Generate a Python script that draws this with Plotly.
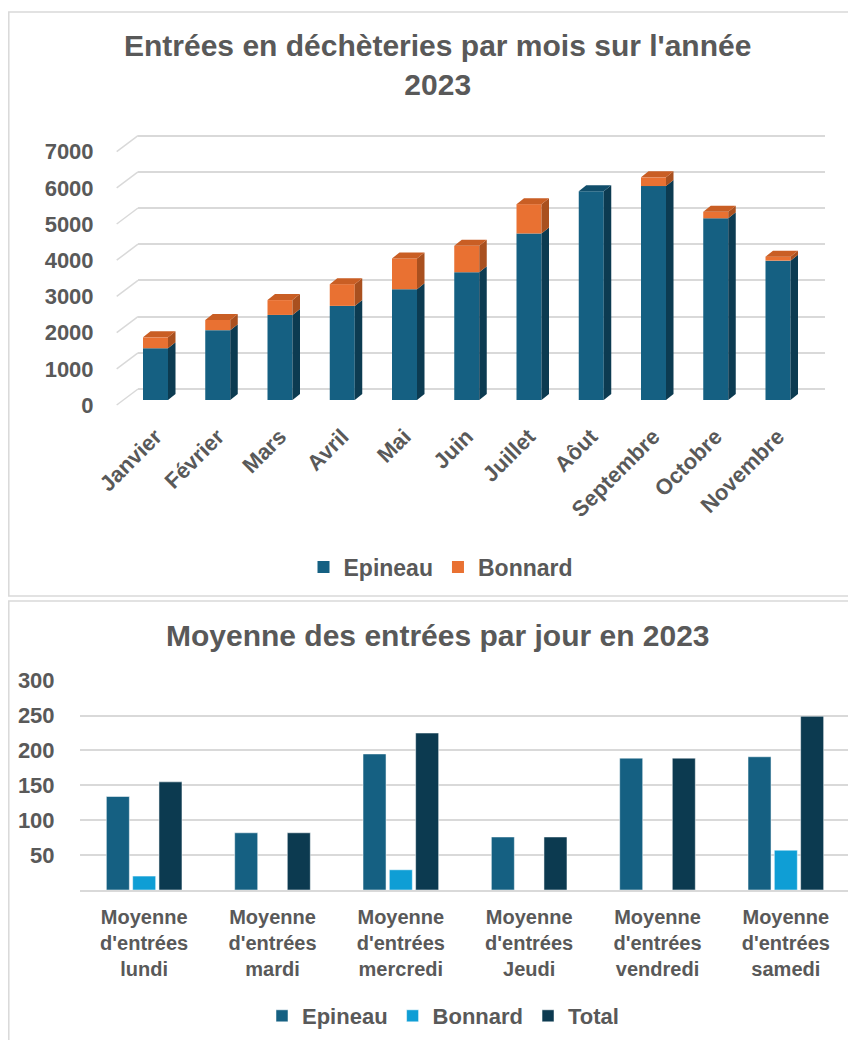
import plotly.graph_objects as go

# ---------------- data ----------------
months = ["Janvier", "Février", "Mars", "Avril", "Mai", "Juin", "Juillet",
          "Aôut", "Septembre", "Octobre", "Novembre"]
epineau_mois = [1430, 1930, 2350, 2600, 3060, 3530, 4600, 5770, 5910, 5020, 3850]
bonnard_mois = [300, 280, 410, 600, 850, 730, 810, 0, 240, 180, 110]
y_ticks_mois = [0, 1000, 2000, 3000, 4000, 5000, 6000, 7000]

days = ["Moyenne<br>d'entrées<br>lundi", "Moyenne<br>d'entrées<br>mardi",
        "Moyenne<br>d'entrées<br>mercredi", "Moyenne<br>d'entrées<br>Jeudi",
        "Moyenne<br>d'entrées<br>vendredi", "Moyenne<br>d'entrées<br>samedi"]
epineau_jour = [134, 82, 195, 76, 189, 191]
bonnard_jour = [20, None, 29, None, None, 57]
total_jour = [155, 82, 225, 76, 189, 249]
y_ticks_jour = [50, 100, 150, 200, 250, 300]

# ---------------- styles ----------------
C_EPI = "#156082"
C_EPI_SIDE = "#0C3B51"
C_EPI_TOP = "#114E6B"
C_BON = "#E97132"
C_BON_SIDE = "#A9501F"
C_BON_TOP = "#C95E24"
C_BON2 = "#0F9ED5"
C_TOT = "#0C3A50"
GRID = "#D9D9D9"
TXT = "#595959"
FONT = "Liberation Sans"

# page has an 8px body margin: figure drawn at (8, 8)
OFF = 8
W, H = 856 - OFF, 1040 - OFF
def fx(x): return (x - OFF) / W
def fy(y): return 1 - (y - OFF) / H

# top chart geometry (pixels, in window coordinates)
T_TOP, T_BOT = 120, 410
X_L, X_R = 138, 825
CAT0, CAT_STEP = 155.5, 62.25
PX_PER_1000 = 36.2
k = 1000 / PX_PER_1000
BAR_BASE, LABEL_BASE, GRID_BASE = 400, 405, 389
BW = 25 / CAT_STEP
DX = 7.5 / CAT_STEP
DY = 6 * k

def yr(base):
    return [-(T_BOT - base) * k, (base - T_TOP) * k]

xr = [(X_L - CAT0) / CAT_STEP, (X_R - CAT0) / CAT_STEP]
xs_idx = list(range(len(months)))

fig = go.Figure()

# axis carriers (empty) so the overlaid label / grid axes are drawn
fig.add_trace(go.Scatter(x=[], y=[], xaxis="x", yaxis="y3", showlegend=False, hoverinfo="skip"))
fig.add_trace(go.Scatter(x=[], y=[], xaxis="x", yaxis="y2", showlegend=False, hoverinfo="skip"))

# front faces
fig.add_trace(go.Bar(x=xs_idx, y=epineau_mois, width=BW, offsetgroup="m",
                     marker=dict(color=C_EPI, line=dict(width=0)), name="Epineau",
                     xaxis="x", yaxis="y", legend="legend"))
fig.add_trace(go.Bar(x=xs_idx, y=bonnard_mois, base=epineau_mois, width=BW, offsetgroup="m",
                     marker=dict(color=C_BON, line=dict(width=0)), name="Bonnard",
                     xaxis="x", yaxis="y", legend="legend"))

def side_faces(lows, highs):
    xs, ys = [], []
    for i, (lo, hi) in enumerate(zip(lows, highs)):
        if hi - lo <= 0:
            continue
        xa = i + BW / 2
        xb = xa + DX
        xs += [xa, xb, xb, xa, xa, None]
        ys += [lo, lo + DY, hi + DY, hi, lo, None]
    return xs, ys

def top_faces(tops, mask):
    xs, ys = [], []
    for i, (t, m) in enumerate(zip(tops, mask)):
        if not m:
            continue
        xa = i - BW / 2
        xb = i + BW / 2
        xs += [xa, xa + DX, xb + DX, xb, xa, None]
        ys += [t, t + DY, t + DY, t, t, None]
    return xs, ys

totals = [e + b for e, b in zip(epineau_mois, bonnard_mois)]
sx, sy = side_faces([0] * len(months), epineau_mois)
fig.add_trace(go.Scatter(x=sx, y=sy, fill="toself", fillcolor=C_EPI_SIDE, mode="lines",
                         line=dict(width=0, color=C_EPI_SIDE), showlegend=False, hoverinfo="skip",
                         xaxis="x", yaxis="y"))
sx, sy = side_faces(epineau_mois, totals)
fig.add_trace(go.Scatter(x=sx, y=sy, fill="toself", fillcolor=C_BON_SIDE, mode="lines",
                         line=dict(width=0, color=C_BON_SIDE), showlegend=False, hoverinfo="skip",
                         xaxis="x", yaxis="y"))
tx, ty = top_faces(totals, [b > 0 for b in bonnard_mois])
fig.add_trace(go.Scatter(x=tx, y=ty, fill="toself", fillcolor=C_BON_TOP, mode="lines",
                         line=dict(width=0, color=C_BON_TOP), showlegend=False, hoverinfo="skip",
                         xaxis="x", yaxis="y"))
tx, ty = top_faces(totals, [b <= 0 for b in bonnard_mois])
fig.add_trace(go.Scatter(x=tx, y=ty, fill="toself", fillcolor=C_EPI_TOP, mode="lines",
                         line=dict(width=0, color=C_EPI_TOP), showlegend=False, hoverinfo="skip",
                         xaxis="x", yaxis="y"))

# bottom chart
edge = dict(width=1, color="rgba(255,255,255,0.5)")
fig.add_trace(go.Bar(x=days, y=epineau_jour, name="Epineau",
                     marker=dict(color=C_EPI, line=edge),
                     xaxis="x2", yaxis="y4", legend="legend2"))
fig.add_trace(go.Bar(x=days, y=bonnard_jour, name="Bonnard",
                     marker=dict(color=C_BON2, line=edge),
                     xaxis="x2", yaxis="y4", legend="legend2"))
fig.add_trace(go.Bar(x=days, y=total_jour, name="Total",
                     marker=dict(color=C_TOT, line=edge),
                     xaxis="x2", yaxis="y4", legend="legend2"))

tick_font = dict(family=FONT, size=22, color=TXT, weight="bold")

shapes = []
# chart frames
shapes.append(dict(type="rect", xref="paper", yref="paper", x0=fx(8.8), x1=fx(870),
                   y0=fy(596), y1=fy(12), line=dict(color=GRID, width=1.5)))
shapes.append(dict(type="rect", xref="paper", yref="paper", x0=fx(8.8), x1=fx(870),
                   y0=fy(1060), y1=fy(601), line=dict(color=GRID, width=1.5)))
# perspective diagonals joining the front labels to the back wall gridlines
for v in y_ticks_mois:
    shapes.append(dict(type="line", xref="paper", yref="paper",
                       x0=fx(116.7), y0=fy(LABEL_BASE - v / k),
                       x1=fx(X_L), y1=fy(GRID_BASE - v / k),
                       line=dict(color=GRID, width=1.5)))

annotations = [
    dict(text="Entrées en déchèteries par mois sur l'année<br>2023", xref="paper", yref="paper",
         x=fx(437), y=fy(65), xanchor="center", yanchor="middle", showarrow=False,
         font=dict(family=FONT, size=30, color=TXT, weight="bold")),
    dict(text="Moyenne des entrées par jour en 2023", xref="paper", yref="paper",
         x=fx(438), y=fy(635), xanchor="center", yanchor="middle", showarrow=False,
         font=dict(family=FONT, size=30, color=TXT, weight="bold")),
]

fig.update_layout(
    width=W, height=H, margin=dict(l=0, r=0, t=0, b=0, autoexpand=False),
    paper_bgcolor="white", plot_bgcolor="rgba(0,0,0,0)",
    barmode="group", bargap=0.385, bargroupgap=0.125,
    xaxis=dict(domain=[fx(X_L), fx(X_R)], range=xr, anchor="y", automargin=False,
               tickvals=xs_idx, ticktext=months, tickangle=-45,
               showgrid=False, zeroline=False, showline=False,
               ticks="outside", ticklen=4, tickcolor="rgba(0,0,0,0)", tickfont=tick_font),
    yaxis=dict(domain=[fy(T_BOT), fy(T_TOP)], range=yr(BAR_BASE), anchor="x", automargin=False,
               showgrid=False, zeroline=False, showticklabels=False),
    yaxis2=dict(overlaying="y", anchor="x", side="left", range=yr(LABEL_BASE), automargin=False,
                tickvals=y_ticks_mois, showgrid=False, zeroline=False, tickfont=tick_font,
                ticks="outside", ticklen=X_L - 99, tickcolor="rgba(0,0,0,0)"),
    yaxis3=dict(overlaying="y", anchor="x", range=yr(GRID_BASE), tickvals=y_ticks_mois,
                automargin=False,
                showgrid=True, gridcolor=GRID, gridwidth=1.5, zeroline=False,
                showticklabels=False),
    xaxis2=dict(domain=[fx(80), fx(850)], anchor="y4", showgrid=False, zeroline=False,
                automargin=False,
                showline=True, linecolor=GRID, linewidth=1.5,
                ticks="outside", ticklen=8, tickcolor="rgba(0,0,0,0)",
                tickfont=dict(family=FONT, size=20, color=TXT, weight="bold")),
    yaxis4=dict(domain=[fy(890), fy(680.7)], range=[0, 300], anchor="x2", automargin=False,
                tickvals=y_ticks_jour, showgrid=True, gridcolor=GRID, gridwidth=1.5,
                zeroline=False, ticks="outside", ticklen=20, tickcolor="rgba(0,0,0,0)",
                tickfont=tick_font),
    legend=dict(orientation="h", x=fx(441), y=fy(567), xanchor="center", yanchor="middle",
                font=dict(family=FONT, size=23, color=TXT, weight="bold"), traceorder="normal"),
    legend2=dict(orientation="h", x=fx(443), y=fy(1016), xanchor="center", yanchor="middle",
                 font=dict(family=FONT, size=22, color=TXT, weight="bold"), traceorder="normal"),
    shapes=shapes, annotations=annotations,
)

fig.write_html("out.html")
